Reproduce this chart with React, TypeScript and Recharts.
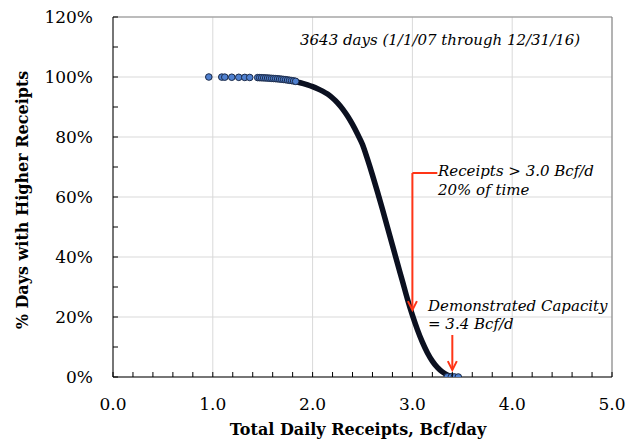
import React from 'react';
import { ComposedChart, Line, Scatter, XAxis, YAxis, CartesianGrid, ReferenceLine, ReferenceDot } from 'recharts';

// axis ticks (minor every 0.2 / 10%, labels on the majors)
const xTicks = [0, 0.2, 0.4, 0.6, 0.8, 1, 1.2, 1.4, 1.6, 1.8, 2, 2.2, 2.4, 2.6, 2.8, 3, 3.2, 3.4, 3.6, 3.8, 4, 4.2, 4.4, 4.6, 4.8, 5];
const yTicks = [0, 10, 20, 30, 40, 50, 60, 70, 80, 90, 100, 110, 120];
const xGrid = [0, 1, 2, 3, 4, 5];
const yGrid = [0, 20, 40, 60, 80, 100, 120];

// dense part of the sorted daily receipts curve (Bcf/d vs % days higher)
const bodyReceipts = [1.8, 1.85, 1.9, 1.95, 2.0, 2.05, 2.1, 2.15, 2.2, 2.25, 2.3, 2.35, 2.4, 2.45, 2.5, 2.55, 2.6, 2.65, 2.7, 2.75, 2.8, 2.85, 2.9, 2.95, 3.0, 3.05, 3.1, 3.15, 3.2, 3.25, 3.3, 3.35, 3.4];
const bodyPct = [98.7, 98.3, 97.9, 97.4, 96.8, 96.1, 95.3, 94.3, 93.0, 91.4, 89.4, 87.0, 84.2, 81.0, 77.5, 72.6, 67.3, 61.7, 55.9, 49.9, 43.9, 37.9, 32.0, 26.0, 20.6, 15.8, 11.6, 8.1, 5.3, 3.2, 1.7, 0.7, 0.2];

// sparse days at both ends, where single dots show
const lowTailReceipts = [0.96, 1.09, 1.12, 1.19, 1.26, 1.32, 1.37, 1.45, 1.47, 1.49, 1.51, 1.53, 1.55, 1.57, 1.59, 1.61, 1.63, 1.65, 1.67, 1.69, 1.71, 1.73, 1.75, 1.77, 1.79, 1.81, 1.83];
const lowTailPct = [100, 99.97, 99.95, 99.92, 99.89, 99.86, 99.84, 99.8, 99.78, 99.75, 99.72, 99.69, 99.65, 99.6, 99.55, 99.5, 99.45, 99.4, 99.33, 99.26, 99.18, 99.1, 99.0, 98.9, 98.8, 98.7, 98.55];
const highTailReceipts = [3.35, 3.39, 3.42, 3.46];
const highTailPct = [0.08, 0.05, 0.03, 0];

const bodyData = bodyReceipts.map((x, i) => ({ x, y: bodyPct[i] }));
const tailData = [
  ...lowTailReceipts.map((x, i) => ({ x, y: lowTailPct[i] })),
  ...highTailReceipts.map((x, i) => ({ x, y: highTailPct[i] })),
];

const FONT = "'DejaVu Serif', serif";
const GAP = 20;
const RED = '#ff3517';

const XTick = (props: any) => {
  const { x, y, payload } = props;
  const base = y - GAP;
  const v = payload.value;
  const major = Math.abs(v - Math.round(v)) < 1e-6;
  return (
    <g>
      <line x1={x} x2={x} y1={base} y2={base - 5} stroke="#000" />
      {major && (
        <text x={x} y={base + 33} textAnchor="middle" fontFamily={FONT} fontSize={17} fill="#000">
          {v.toFixed(1)}
        </text>
      )}
    </g>
  );
};

const YTick = (props: any) => {
  const { x, y, payload } = props;
  const base = x + GAP;
  const v = payload.value;
  return (
    <g>
      <line x1={base} x2={base + 5} y1={y} y2={y} stroke="#000" />
      {v % 20 === 0 && (
        <text x={x} y={y} dy="0.36em" textAnchor="end" fontFamily={FONT} fontSize={17} fill="#000">
          {v}%
        </text>
      )}
    </g>
  );
};

const Dot = (p: any) => <circle cx={p.cx} cy={p.cy} r={3.3} fill="#4f80cf" stroke="#1b2a48" strokeWidth={1} />;

const ArrowHead = (p: any) => (
  <path d={`M${p.cx - 4.5},${p.cy - 9} L${p.cx},${p.cy} L${p.cx + 4.5},${p.cy - 9}`} fill="none" stroke={RED} strokeWidth={2} />
);

export default function App() {
  return (
    <div style={{ position: 'absolute', left: 0, top: 0, width: 632, height: 443, background: '#fff' }}>
      <ComposedChart width={632} height={443} margin={{ top: 17, right: 20, bottom: 26, left: 53 }}>
        <CartesianGrid stroke="#d9d9d9" horizontalValues={yGrid} verticalValues={xGrid} />
        <XAxis
          type="number"
          dataKey="x"
          domain={[0, 5]}
          ticks={xTicks}
          interval={0}
          height={40}
          tickSize={0}
          tickMargin={GAP}
          tickLine={false}
          axisLine={{ stroke: '#000' }}
          tick={<XTick />}
          allowDataOverflow
        />
        <YAxis
          type="number"
          domain={[0, 120]}
          ticks={yTicks}
          interval={0}
          width={60}
          tickSize={0}
          tickMargin={GAP}
          tickLine={false}
          axisLine={{ stroke: '#000' }}
          tick={<YTick />}
          allowDataOverflow
        />
        <ReferenceLine y={120} stroke="#8c8c8c" />
        <ReferenceLine x={5} stroke="#7a7a7a" />
        <Line data={bodyData} dataKey="y" type="monotone" stroke="#0b1020" strokeWidth={5.5} strokeLinecap="round" dot={false} isAnimationActive={false} />
        <Scatter data={tailData} dataKey="y" shape={<Dot />} isAnimationActive={false} />
        <ReferenceLine segment={[{ x: 3.25, y: 68 }, { x: 3.0, y: 68 }]} stroke={RED} strokeWidth={2} />
        <ReferenceLine segment={[{ x: 3.0, y: 68 }, { x: 3.0, y: 22.6 }]} stroke={RED} strokeWidth={2} />
        <ReferenceDot x={3.0} y={22.3} shape={<ArrowHead />} />
        <ReferenceLine segment={[{ x: 3.4, y: 14 }, { x: 3.4, y: 2.6 }]} stroke={RED} strokeWidth={2} />
        <ReferenceDot x={3.4} y={2.3} shape={<ArrowHead />} />
      </ComposedChart>
      <svg width={632} height={443} style={{ position: 'absolute', left: 0, top: 0, pointerEvents: 'none' }}>
        <g fontFamily={FONT} fontStyle="italic" fontSize={15} fill="#000">
          <text x={300} y={45}>3643 days (1/1/07 through 12/31/16)</text>
          <text x={438} y={176}>Receipts &gt; 3.0 Bcf/d</text>
          <text x={438} y={195}>20% of time</text>
          <text x={428} y={311}>Demonstrated Capacity</text>
          <text x={428} y={329}>= 3.4 Bcf/d</text>
        </g>
        <text x={358} y={435} textAnchor="middle" fontFamily={FONT} fontWeight="bold" fontSize={16} fill="#000">
          Total Daily Receipts, Bcf/day
        </text>
        <text x={28} y={200} transform="rotate(-90 28 200)" textAnchor="middle" fontFamily={FONT} fontWeight="bold" fontSize={16} fill="#000">
          % Days with Higher Receipts
        </text>
      </svg>
    </div>
  );
}
